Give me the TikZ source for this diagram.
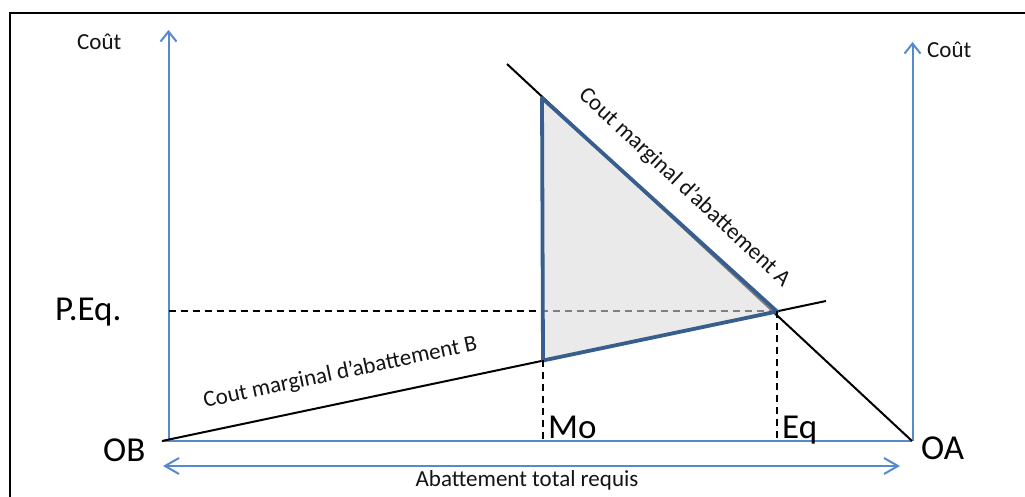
\documentclass[tikz,border=0pt]{standalone}
\usepackage{fontspec}
\setmainfont{Carlito}
\usetikzlibrary{arrows.meta}
\definecolor{axisblue}{RGB}{86,138,205}
\definecolor{triblue}{RGB}{56,94,142}
\definecolor{trifill}{RGB}{220,220,220}
\tikzset{
  axisline/.style={draw=axisblue, line width=2pt},
  axisarrow/.style={axisline, -{Straight Barb[length=10pt,width=16pt]}},
  costline/.style={draw=black, line width=2pt},
  guide/.style={draw=black, line width=2pt, dash pattern=on 7pt off 5pt},
  smalltext/.style={inner sep=0pt, font=\fontsize{23}{27}\selectfont, text=black!92},
  bigtext/.style={inner sep=0pt, font=\fontsize{35}{40}\selectfont, text=black},
}
\begin{document}
\begin{tikzpicture}[x=1pt,y=1pt]
\useasboundingbox (0,0) rectangle (1025,497);
\fill[white] (0,0) rectangle (1025,497);
\draw[line width=2.5pt] (10,0) -- (10,484) -- (1025,484);

% coordinates
\coordinate (OBp) at (162,56);
\coordinate (OAp) at (912,56);
\coordinate (Bend) at (826,196);
\coordinate (Astart) at (507,433);
\coordinate (E) at (777,185.5);
\coordinate (T) at (542,399);
\coordinate (M) at (543,136.5);
\coordinate (LaxB) at (168.5,56);
\coordinate (LaxT) at (168.5,467);
\coordinate (RaxB) at (912.5,56);
\coordinate (RaxT) at (912.5,455);
\coordinate (PL) at (168.5,185.5);
\coordinate (MoB) at (543,56);
\coordinate (EqB) at (777,56);
\coordinate (DL) at (163,31);
\coordinate (DR) at (900,31);

% axes
\draw[axisarrow] (LaxB) -- (LaxT);
\draw[axisarrow] (RaxB) -- (RaxT);
\draw[axisline] (OBp) -- (OAp);
\draw[axisline, {Straight Barb[length=14pt,width=16pt]}-{Straight Barb[length=14pt,width=16pt]}] (DL) -- (DR);

% guides
\draw[guide] (PL) -- (E);

% cost lines
\draw[costline] (OBp) -- (Bend);
\draw[costline] (Astart) -- (OAp);

% triangle
\fill[trifill, fill opacity=0.58] (T) -- (E) -- (M) -- cycle;
\draw[triblue, line width=3.8pt, line join=round] (T) -- (E) -- (M) -- cycle;

\draw[guide] (M) -- (MoB);
\draw[guide] (E) -- (EqB);

% texts
\node[smalltext, anchor=base west] (coutL) at (77,447) {Coût};
\node[smalltext, anchor=base west] (coutR) at (927,439) {Coût};
\node[bigtext, anchor=base west] (peq) at (55,176) {P.Eq.};
\node[bigtext, anchor=base west] (ob) at (103,35) {OB};
\node[bigtext, anchor=base west] (oa) at (921,37) {OA};
\node[bigtext, anchor=base west] (mo) at (548,58) {Mo};
\node[bigtext, anchor=base west] (eq) at (782,58) {Eq};
\node[smalltext, anchor=base] (tot) at (527,10) {Abattement total requis};
\node[smalltext, anchor=base west, rotate=12] (lb) at (205,89) {Cout marginal d’abattement B};
\node[smalltext, rotate=-43] (la) at (684.5,309.5) {Cout marginal d’abattement A};
\end{tikzpicture}
\end{document}
